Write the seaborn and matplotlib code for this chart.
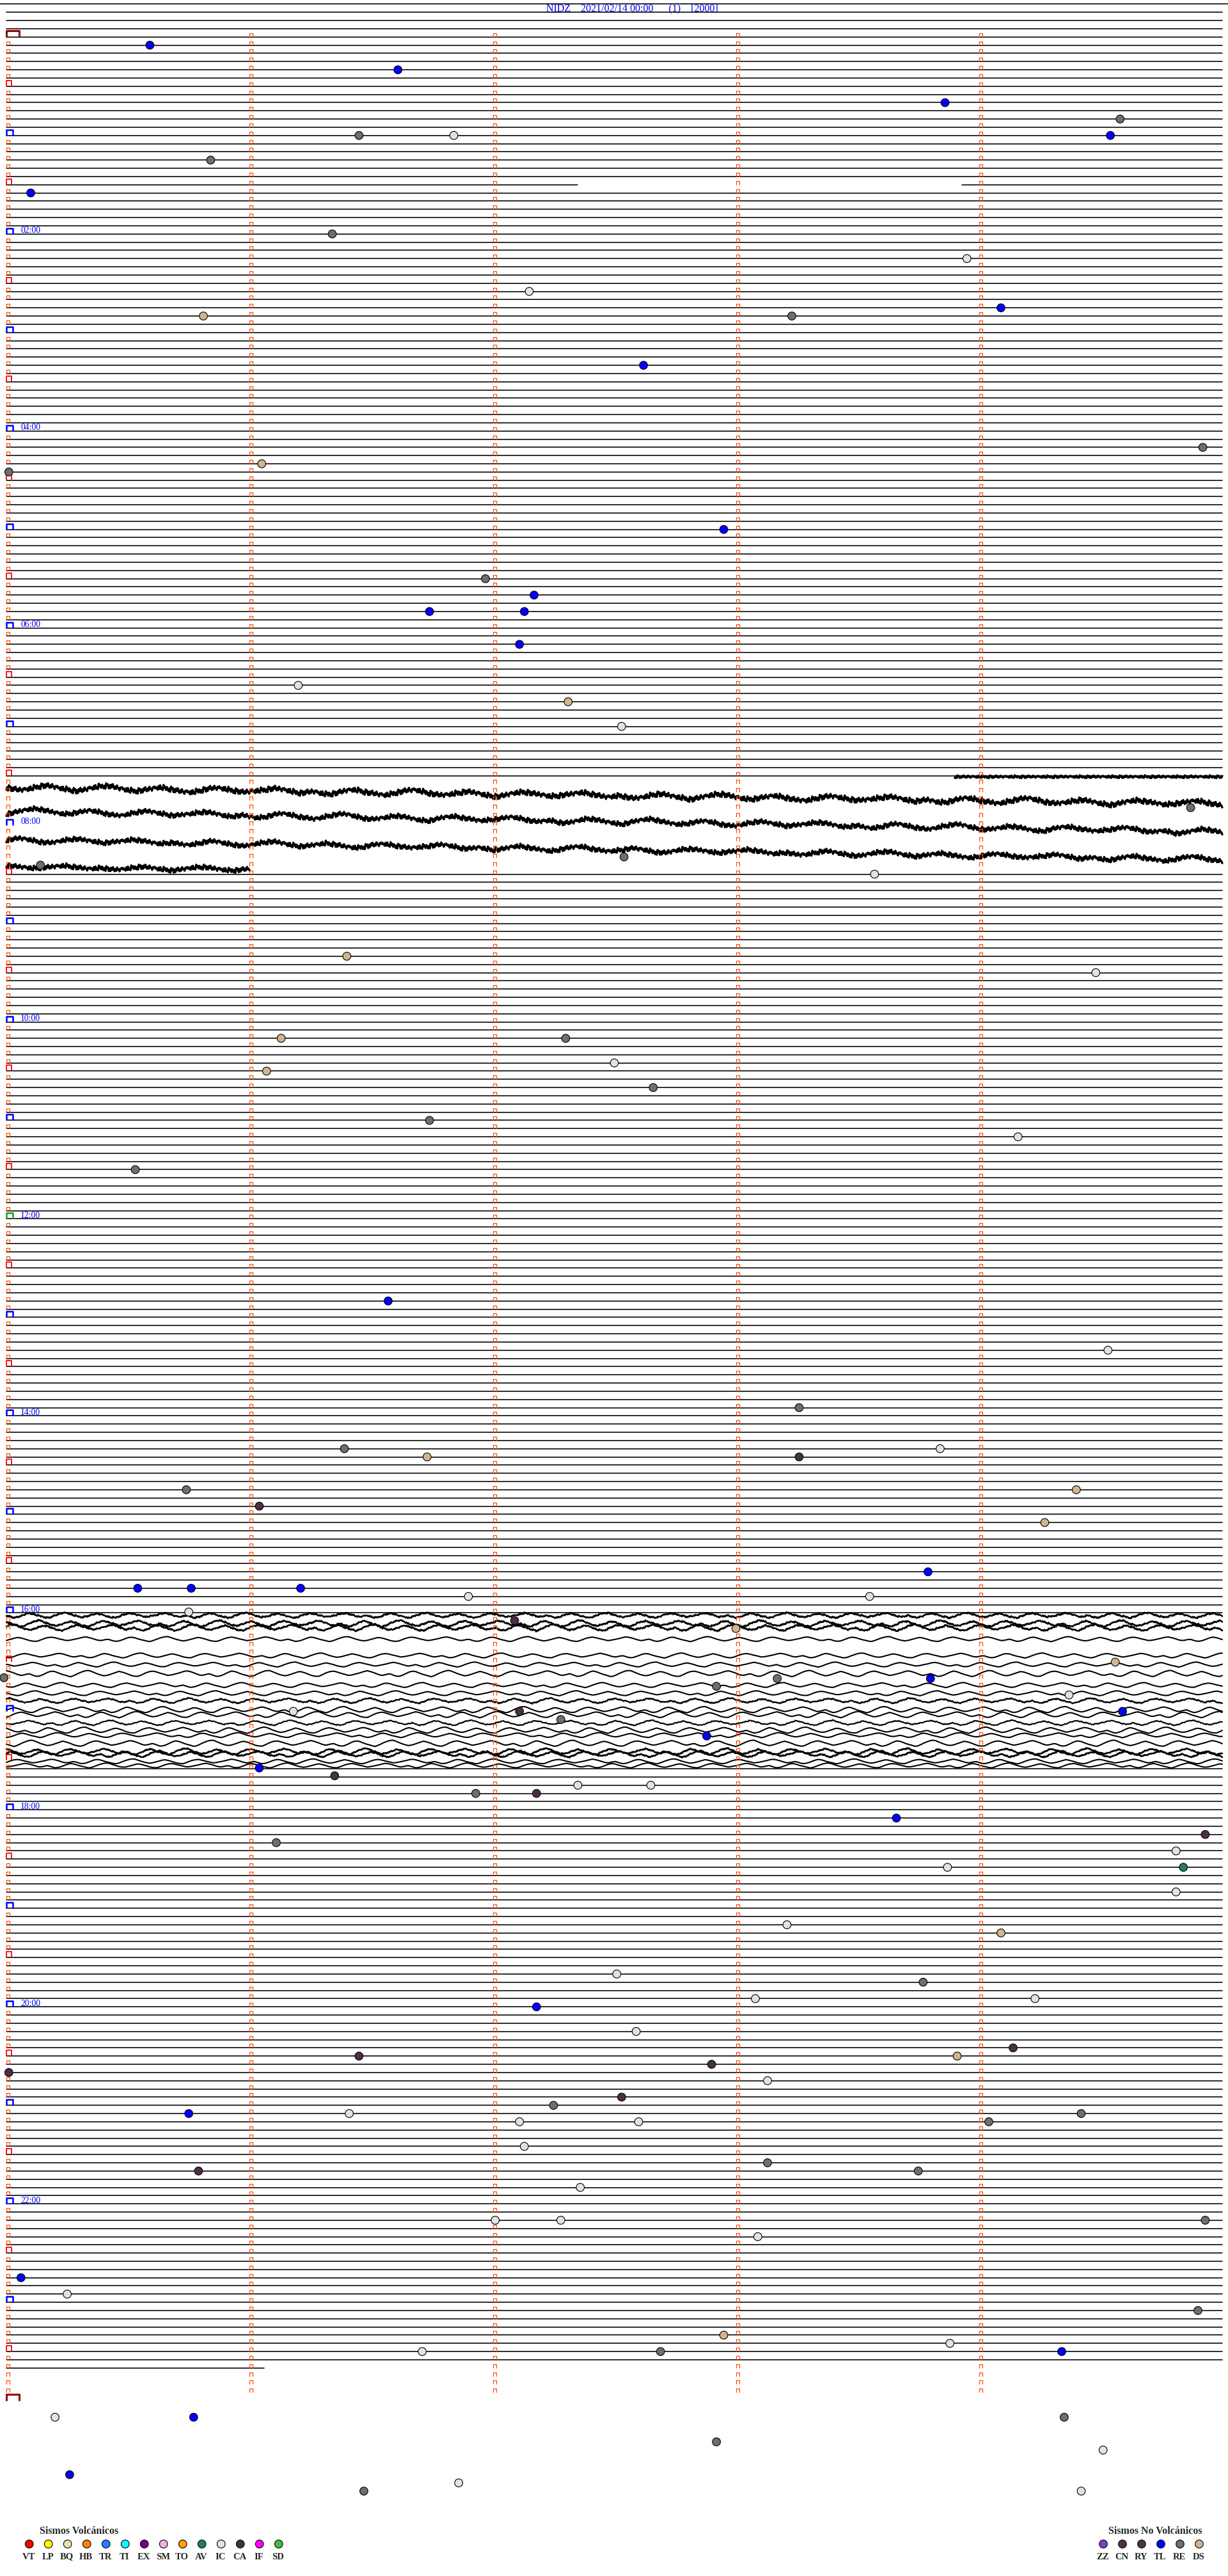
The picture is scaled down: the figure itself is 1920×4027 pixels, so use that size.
import numpy as np
import pandas as pd
import seaborn as sns
import matplotlib.pyplot as plt
from matplotlib.path import Path

# helicorder NIDZ 2021/02/14, one trace per 5 minutes
title = 'NIDZ    2021/02/14 00:00      (1)    [2000]'
n_rows = 288
last_row_end = 1.06                      # minutes written on the last trace
gap_row, gap_start, gap_end = 21, 2.35, 3.93
hour_labels = ['02:00', '04:00', '06:00', '08:00', '10:00', '12:00',
               '14:00', '16:00', '18:00', '20:00', '22:00']

# events: trace row, minute inside the row, class
ev_row = [4, 7, 11, 13, 15, 15, 15, 18, 22, 27,
          30, 34, 36, 37, 37, 43, 53, 56, 55, 63,
          69, 71, 73, 73, 77, 82, 84, 87, 96.9, 103.9,
          102.9, 105, 115, 117, 125, 125, 128, 129, 131, 135,
          137, 141, 157, 163, 170, 175, 176, 175, 176, 180,
          180, 182, 184, 190, 192, 192, 192, 193, 193, 194.9,
          195.95, 196.9, 201, 202.9, 203.95, 203, 203, 205, 207, 207,
          207, 208, 210, 213.9, 214.85, 217, 217, 216, 216, 220,
          222, 223, 224, 226, 226, 229, 233, 234, 239, 240,
          242, 242, 243, 246, 249, 248, 249, 250, 251, 252,
          254, 255, 256, 256, 256, 257, 257, 257, 260, 262,
          263, 263, 265, 269, 269, 269, 271, 276, 278, 280,
          283, 285, 285, 284, 285, 293, 293, 293, 296, 297,
          300, 301, 302, 302]
ev_min = [0.59, 1.61, 3.86, 4.58, 1.45, 1.84, 4.54, 0.84, 0.10, 1.34,
          3.95, 2.15, 4.09, 0.81, 3.23, 2.62, 4.92, 0.01, 1.05, 2.95,
          1.97, 2.17, 1.74, 2.13, 2.11, 1.20, 2.31, 2.53, 4.87, 0.14,
          2.54, 3.57, 1.40, 4.48, 1.13, 2.30, 2.50, 1.07, 2.66, 1.74,
          4.16, 0.53, 1.57, 4.53, 3.26, 1.39, 1.73, 3.84, 3.26, 0.74,
          4.40, 1.04, 4.27, 3.79, 0.54, 0.76, 1.21, 1.90, 3.55, 0.75,
          2.09, 3.00, 4.56, -0.01, 2.92, 3.17, 3.80, 4.37, 4.59, 2.11,
          1.18, 2.28, 2.88, 1.04, 1.35, 1.93, 2.18, 2.35, 2.65, 3.66,
          4.93, 1.11, 4.81, 4.84, 3.87, 4.81, 3.21, 4.09, 2.51, 3.77,
          3.08, 4.23, 2.18, 2.59, 1.45, 4.14, 3.91, 2.90, 0.01, 3.13,
          2.53, 2.25, 0.75, 1.41, 4.42, 2.11, 2.60, 4.04, 2.13, 3.13,
          0.79, 3.75, 2.36, 2.01, 2.28, 4.93, 3.09, 0.06, 0.25, 4.90,
          2.95, 1.71, 2.69, 3.88, 4.34, 0.20, 0.77, 4.35, 2.92, 4.51,
          0.26, 1.86, 1.47, 4.42]
ev_type = ['TL', 'TL', 'TL', 'RE', 'RE', 'IC', 'TL', 'RE', 'TL', 'RE',
           'IC', 'IC', 'TL', 'DS', 'RE', 'TL', 'RE', 'RE', 'DS', 'TL',
           'RE', 'TL', 'TL', 'TL', 'TL', 'IC', 'DS', 'IC', 'RE', 'RE',
           'RE', 'IC', 'DS', 'IC', 'DS', 'RE', 'IC', 'DS', 'RE', 'RE',
           'IC', 'RE', 'TL', 'IC', 'RE', 'RE', 'DS', 'IC', 'CA', 'RE',
           'DS', 'CA', 'DS', 'TL', 'TL', 'TL', 'TL', 'IC', 'IC', 'IC',
           'CA', 'DS', 'DS', 'RE', 'RE', 'RE', 'TL', 'IC', 'TL', 'CA',
           'IC', 'RE', 'TL', 'TL', 'CA', 'RE', 'CA', 'IC', 'IC', 'TL',
           'CA', 'RE', 'IC', 'AV', 'IC', 'IC', 'IC', 'DS', 'IC', 'RE',
           'IC', 'IC', 'TL', 'IC', 'CA', 'CA', 'DS', 'CA', 'CA', 'IC',
           'CA', 'RE', 'TL', 'IC', 'RE', 'IC', 'IC', 'RE', 'IC', 'RE',
           'CA', 'RE', 'IC', 'IC', 'IC', 'RE', 'IC', 'TL', 'IC', 'RE',
           'DS', 'IC', 'RE', 'IC', 'TL', 'IC', 'TL', 'RE', 'RE', 'IC',
           'TL', 'IC', 'RE', 'IC']

# legend classes
volc_codes = ['VT', 'LP', 'BQ', 'HB', 'TR', 'TI', 'EX', 'SM', 'TO', 'AV',
              'IC', 'CA', 'IF', 'SD']
volc_colors = ['#ff0000', '#ffff00', '#f0e0a8', '#ff8000', '#2080ff',
               '#00ffff', '#800080', '#f0b0e0', '#ffa000', '#208060',
               '#e2e2e2', '#4b2f48', '#ff00ff', '#40c040']
nonv_codes = ['ZZ', 'CN', 'RY', 'TL', 'RE', 'DS']
nonv_colors = ['#8040c0', '#503050', '#503050', '#0000ff', '#6e6e6e', '#d4b48c']

# noisy stretch around 07:50-08:45: rows hidden under four fuzzy traces
band_rows = list(range(94, 105))
band_t0 = [0, 0, 0, 0]
band_t1 = [5, 5, 5, 1.0]
band_row0 = [94.4, 97.3, 100.8, 104.1]
band_row1 = [96.4, 99.8, 103.2, 104.4]
band_wave = [4.5, 4.5, 4.0, 3.0]         # px
band_fuzz = [5.0, 4.5, 4.5, 4.5]         # px
spike_row, spike_t0 = 93, 3.9

# wavy stretch 16:15-17:50
busy_rows = list(range(196, 214))
busy_base = [195.3, 196.3, 196.8, 198.2, 200.2, 201.3, 202.4, 203.8, 204.8, 205.7,
             206.8, 207.4, 208.4, 209.3, 209.9, 210.9, 211.9, 212.2, 213.1, 213.6]
busy_amp = [4, 5, 5, 4, 4, 4, 5, 4, 4, 4, 5, 5, 4, 5, 4, 5, 5, 5, 4, 4]
busy_fuzz = [1.5, 1.5, 1.5, 0, 0, 0, 0, 0, 0, 1.2, 0, 0, 1, 0, 0, 0, 1.2, 1.2, 0, 0]
busy_lw = [1.9, 1.9, 1.9, 1.5, 1.5, 1.5, 1.5, 1.5, 1.5, 1.7,
           1.5, 1.5, 1.5, 1.5, 1.5, 1.5, 1.9, 1.9, 1.5, 1.5]

wig = [0.0, 0.5, 0.9, 0.7, 0.2, -0.4, -0.8, -0.6, -0.1, 0.3, 0.6, 1.0,
       0.6, 0.0, -0.5, -0.9, -1.0, -0.5, 0.0, 0.4, 0.7, 0.5, 0.1, -0.3,
       -0.7, -0.4, 0.0, 0.5, 0.8, 0.9, 0.4, -0.2, -0.6, -0.8, -0.5, -0.1,
       0.2, 0.6, 0.4, 0.1, -0.2, -0.6, -0.9, -0.6, -0.2, 0.3, 0.6, 0.3]
fz = [0.8, -0.6, 1.0, -0.9, 0.3, -0.4, 0.7, -1.0, 0.5, -0.2, 0.9, -0.7, 0.1]

sns.set_style('white')
plt.rcParams['font.family'] = ['Liberation Serif', 'DejaVu Sans']

W, H = 1920, 4027
X0, XS = 10.0, 380.2       # pixel of minute 0, pixels per minute
Y0, YS = 19.3, 12.831      # pixel of row 0, pixels per row
tick_row0 = 3              # 00:00 tick sits three rows below the first trace
tick_shift = 0.007


def wavy(row0, row1, t0, t1, amp_w, amp_f, period, phase, step):
    n = int((t1 - t0) * XS / step) + 1
    t = np.linspace(t0, t1, n)
    px = (t - t0) * XS
    iw = (px / period * 8 + phase) % len(wig)
    w = np.interp(iw, np.arange(len(wig) + 1), wig + wig[:1])
    i = np.arange(n)
    f = 0.6 * np.array(fz)[i % len(fz)] + 0.4 * np.array(fz)[(i // 3) % len(fz)]
    base = np.interp(t, [t0, t1], [row0, row1])
    return t, base + (amp_w * w + amp_f * f) / YS


def bracket(w, h, left=False):
    x0, x1 = (0, w) if left else (-w / 2, w / 2)
    verts = [(x0, 0), (x0, h), (x1, h), (x1, 0)]
    path = Path(verts, [Path.MOVETO, Path.LINETO, Path.LINETO, Path.LINETO])
    m = max(abs(v) for xy in verts for v in xy)
    return path, (1.44 * m) ** 2


fig = plt.figure(figsize=(W / 100, H / 100), dpi=100)
ax = fig.add_axes([0, 0, 1, 1])

# flat traces
sx, sy, sid = [], [], []
n = 0
for k in range(n_rows):
    if k in band_rows or k in busy_rows:
        continue
    if k == gap_row:
        spans = [(0, gap_start), (gap_end, 5)]
    elif k == n_rows - 1:
        spans = [(0, last_row_end)]
    else:
        spans = [(0, 5)]
    for a, b in spans:
        sx += [a, b]
        sy += [k, k]
        sid += [n, n]
        n += 1
flat = pd.DataFrame({'minute': sx, 'row': sy, 'seg': sid})
sns.lineplot(data=flat, x='minute', y='row', units='seg', estimator=None, sort=False,
             color='black', linewidth=1.15, ax=ax)
ax.axhline(-1, color='black', linewidth=1.15)

# noisy traces
parts = []
for j in range(len(band_row0)):
    t, y = wavy(band_row0[j], band_row1[j], band_t0[j], band_t1[j],
                band_wave[j], band_fuzz[j], 80, j * 11, 1.3)
    parts.append(pd.DataFrame({'minute': t, 'row': y, 'seg': 'b%d' % j}))
t, y = wavy(spike_row + 0.12, spike_row + 0.12, spike_t0, 5, 0, 2.5, 80, 0, 1.3)
parts.append(pd.DataFrame({'minute': t, 'row': y, 'seg': 'spike'}))
noisy = pd.concat(parts)
sns.lineplot(data=noisy, x='minute', y='row', units='seg', estimator=None, sort=False,
             color='black', linewidth=2.4, ax=ax)

for lw in sorted(set(busy_lw)):
    parts = []
    for j in range(len(busy_base)):
        if busy_lw[j] != lw:
            continue
        step = 1.5 if busy_fuzz[j] else 4.0
        t, y = wavy(busy_base[j], busy_base[j], 0, 5, busy_amp[j], busy_fuzz[j],
                    47, (j * 7) % 48, step)
        parts.append(pd.DataFrame({'minute': t, 'row': y, 'seg': j}))
    sns.lineplot(data=pd.concat(parts), x='minute', y='row', units='seg', estimator=None,
                 sort=False, color='black', linewidth=lw, ax=ax)

# minute ticks
small, s_small = bracket(5, 6)
cols = pd.DataFrame({'minute': np.repeat([1, 2, 3, 4], n_rows) + tick_shift,
                     'row': np.tile(np.arange(n_rows) + tick_row0, 4)})
left_r = [r for r in range(1, n_rows) if r % 6 != 0]
cols = pd.concat([cols, pd.DataFrame({'minute': tick_shift,
                                      'row': np.array(left_r) + tick_row0})])
sns.scatterplot(data=cols, x='minute', y='row', marker=small, s=s_small, color='#ff4a00',
                facecolor='none', edgecolor='#ff4a00', linewidth=0.9, ax=ax, zorder=3)

half, s_half = bracket(8, 9, left=True)
hr = [r for r in range(6, n_rows, 12)]
sns.scatterplot(x=[0.0] * len(hr), y=np.array(hr) + tick_row0, marker=half, s=s_half,
                color='#ff0000', facecolor='none', edgecolor='#ff0000', linewidth=1.3,
                ax=ax, zorder=3)

hour, s_hour = bracket(10, 9, left=True)
for rows_h, col in [([r for r in range(12, n_rows, 12) if r != 144], '#0000ff'),
                    ([144], '#20a020')]:
    sns.scatterplot(x=[0.0] * len(rows_h), y=np.array(rows_h) + tick_row0, marker=hour,
                    s=s_hour, color=col, facecolor='none', edgecolor=col, linewidth=1.8,
                    ax=ax, zorder=3)

day, s_day = bracket(20, 10, left=True)
sns.scatterplot(x=[0.0, 0.0], y=[tick_row0, n_rows + tick_row0], marker=day, s=s_day,
                color='#990000', facecolor='none', edgecolor='#990000', linewidth=2.2,
                ax=ax, zorder=3)

for i, lab in enumerate(hour_labels):
    r = 24 * (i + 1)
    ax.text(22 / XS, r + tick_row0 - 0.37, lab, color='#0000ff', fontsize=9.8,
            ha='left', va='center')

# events
pal = dict(zip(volc_codes, volc_colors))
pal.update(zip(nonv_codes, nonv_colors))
ev = pd.DataFrame({'minute': ev_min, 'row': ev_row, 'type': ev_type})
sns.scatterplot(data=ev, x='minute', y='row', hue='type', palette=pal, s=82,
                edgecolor='black', linewidth=0.8, legend=False, ax=ax, zorder=5)

ax.set_xlim(-X0 / XS, (W - X0) / XS)
ax.set_ylim((H - Y0) / YS, -Y0 / YS)
ax.axis('off')

fig.text(988 / W, 1 - 13 / H, title, color='#0000ff', fontsize=11.5,
         ha='center', va='center')

# legend strip at the bottom
lg = fig.add_axes([0, 0, 1, 1])
lg.patch.set_alpha(0)
for codes, colors, x_first, head, head_x in [
        (volc_codes, volc_colors, 45.7, 'Sismos Volcánicos', 124),
        (nonv_codes, nonv_colors, 1725, 'Sismos No Volcánicos', 1806)]:
    xs = x_first + 30 * np.arange(len(codes))
    sns.scatterplot(x=xs, y=[3977] * len(codes), hue=codes,
                    palette=dict(zip(codes, colors)), s=82, edgecolor='black',
                    linewidth=0.8, legend=False, ax=lg)
    for x, c in zip(xs, codes):
        lg.text(x - 1, 3997, c, fontsize=10.5, fontweight='bold', ha='center', va='center')
    lg.text(head_x, 3957, head, fontsize=11.5, fontweight='bold', ha='center', va='center')
lg.set_xlim(0, W)
lg.set_ylim(H, 0)
lg.axis('off')

fig.savefig('out.png', dpi=100, facecolor='white')
